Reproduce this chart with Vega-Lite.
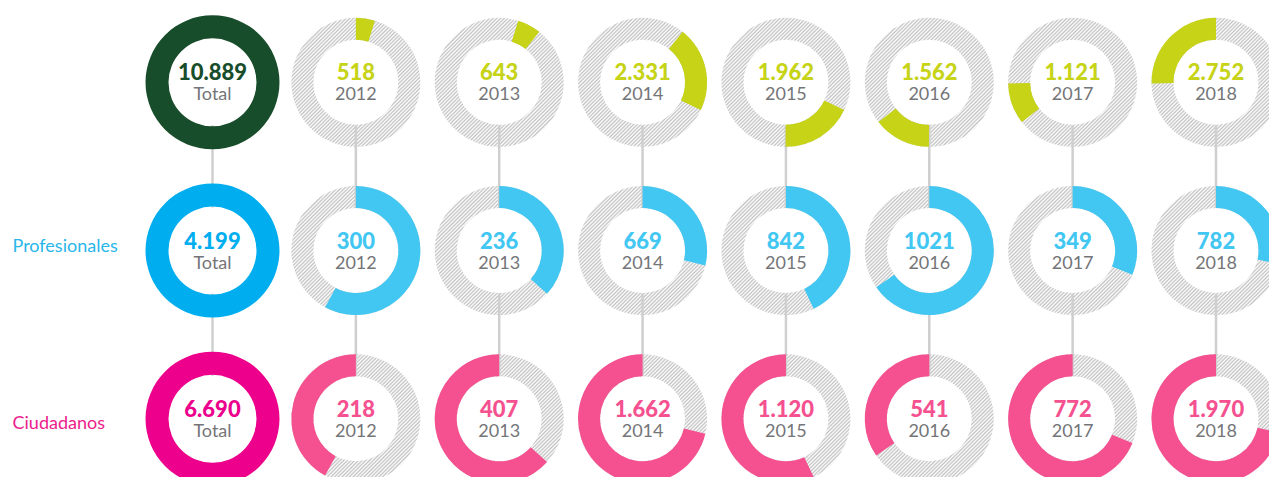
{
  "$schema": "https://vega.github.io/schema/vega-lite/v6.json",
  "width": 1269,
  "height": 477,
  "autosize": {"type": "none"},
  "padding": 0,
  "background": "#ffffff",
  "config": {"view": {"stroke": null}},
  "data": {
    "values": [
      {"grupo": "Total", "col": "Total", "valor": 10889, "etiqueta": "10.889"},
      {"grupo": "Total", "col": "2012", "valor": 518, "etiqueta": "518"},
      {"grupo": "Total", "col": "2013", "valor": 643, "etiqueta": "643"},
      {"grupo": "Total", "col": "2014", "valor": 2331, "etiqueta": "2.331"},
      {"grupo": "Total", "col": "2015", "valor": 1962, "etiqueta": "1.962"},
      {"grupo": "Total", "col": "2016", "valor": 1562, "etiqueta": "1.562"},
      {"grupo": "Total", "col": "2017", "valor": 1121, "etiqueta": "1.121"},
      {"grupo": "Total", "col": "2018", "valor": 2752, "etiqueta": "2.752"},
      {"grupo": "Profesionales", "col": "Total", "valor": 4199, "etiqueta": "4.199"},
      {"grupo": "Profesionales", "col": "2012", "valor": 300, "etiqueta": "300"},
      {"grupo": "Profesionales", "col": "2013", "valor": 236, "etiqueta": "236"},
      {"grupo": "Profesionales", "col": "2014", "valor": 669, "etiqueta": "669"},
      {"grupo": "Profesionales", "col": "2015", "valor": 842, "etiqueta": "842"},
      {"grupo": "Profesionales", "col": "2016", "valor": 1021, "etiqueta": "1021"},
      {"grupo": "Profesionales", "col": "2017", "valor": 349, "etiqueta": "349"},
      {"grupo": "Profesionales", "col": "2018", "valor": 782, "etiqueta": "782"},
      {"grupo": "Ciudadanos", "col": "Total", "valor": 6690, "etiqueta": "6.690"},
      {"grupo": "Ciudadanos", "col": "2012", "valor": 218, "etiqueta": "218"},
      {"grupo": "Ciudadanos", "col": "2013", "valor": 407, "etiqueta": "407"},
      {"grupo": "Ciudadanos", "col": "2014", "valor": 1662, "etiqueta": "1.662"},
      {"grupo": "Ciudadanos", "col": "2015", "valor": 1120, "etiqueta": "1.120"},
      {"grupo": "Ciudadanos", "col": "2016", "valor": 541, "etiqueta": "541"},
      {"grupo": "Ciudadanos", "col": "2017", "valor": 772, "etiqueta": "772"},
      {"grupo": "Ciudadanos", "col": "2018", "valor": 1970, "etiqueta": "1.970"}
    ]
  },
  "encoding": {
    "x": {
      "field": "col",
      "type": "nominal",
      "scale": {"type": "point", "domain": ["Total", "2012", "2013", "2014", "2015", "2016", "2017", "2018"], "range": [212.5, 1216], "padding": 0},
      "axis": null
    },
    "y": {
      "field": "grupo",
      "type": "nominal",
      "scale": {"type": "point", "domain": ["Total", "Profesionales", "Ciudadanos"], "range": [82.3, 418.8], "padding": 0},
      "axis": {
        "title": null,
        "domain": false,
        "ticks": false,
        "tickSize": 0,
        "grid": false,
        "labelAlign": "left",
        "labelBaseline": "alphabetic",
        "labelPadding": -12,
        "labelFont": "Lato",
        "labelFontSize": 18,
        "labelFontWeight": 400,
        "labelOffset": {"expr": "datum.value == 'Ciudadanos' ? 9.5 : 0.5"},
        "labelColor": {"expr": "datum.value == 'Profesionales' ? '#29b6ea' : '#ec1c8c'"},
        "labelExpr": "datum.value == 'Total' ? '' : datum.value"
      }
    }
  },
  "layer": [
    {
      "transform": [{"filter": "datum.col != 'Total'"}],
      "mark": {
        "type": "arc",
        "outerRadius": 64.5,
        "innerRadius": 42.5,
        "fill": {
          "gradient": "linear", "x1": 0, "y1": 0, "x2": 1, "y2": 1,
          "stops": [
            {"offset": 0, "color": "#c2c2c2"}, {"offset": 0.00714, "color": "#ffffff"}, {"offset": 0.01429, "color": "#c2c2c2"}, {"offset": 0.02143, "color": "#ffffff"}, {"offset": 0.02857, "color": "#c2c2c2"}, {"offset": 0.03571, "color": "#ffffff"}, {"offset": 0.04286, "color": "#c2c2c2"}, {"offset": 0.05, "color": "#ffffff"}, {"offset": 0.05714, "color": "#c2c2c2"}, {"offset": 0.06429, "color": "#ffffff"}, {"offset": 0.07143, "color": "#c2c2c2"}, {"offset": 0.07857, "color": "#ffffff"}, {"offset": 0.08571, "color": "#c2c2c2"}, {"offset": 0.09286, "color": "#ffffff"},
            {"offset": 0.1, "color": "#c2c2c2"}, {"offset": 0.10714, "color": "#ffffff"}, {"offset": 0.11429, "color": "#c2c2c2"}, {"offset": 0.12143, "color": "#ffffff"}, {"offset": 0.12857, "color": "#c2c2c2"}, {"offset": 0.13571, "color": "#ffffff"}, {"offset": 0.14286, "color": "#c2c2c2"}, {"offset": 0.15, "color": "#ffffff"}, {"offset": 0.15714, "color": "#c2c2c2"}, {"offset": 0.16429, "color": "#ffffff"}, {"offset": 0.17143, "color": "#c2c2c2"}, {"offset": 0.17857, "color": "#ffffff"}, {"offset": 0.18571, "color": "#c2c2c2"}, {"offset": 0.19286, "color": "#ffffff"},
            {"offset": 0.2, "color": "#c2c2c2"}, {"offset": 0.20714, "color": "#ffffff"}, {"offset": 0.21429, "color": "#c2c2c2"}, {"offset": 0.22143, "color": "#ffffff"}, {"offset": 0.22857, "color": "#c2c2c2"}, {"offset": 0.23571, "color": "#ffffff"}, {"offset": 0.24286, "color": "#c2c2c2"}, {"offset": 0.25, "color": "#ffffff"}, {"offset": 0.25714, "color": "#c2c2c2"}, {"offset": 0.26429, "color": "#ffffff"}, {"offset": 0.27143, "color": "#c2c2c2"}, {"offset": 0.27857, "color": "#ffffff"}, {"offset": 0.28571, "color": "#c2c2c2"}, {"offset": 0.29286, "color": "#ffffff"},
            {"offset": 0.3, "color": "#c2c2c2"}, {"offset": 0.30714, "color": "#ffffff"}, {"offset": 0.31429, "color": "#c2c2c2"}, {"offset": 0.32143, "color": "#ffffff"}, {"offset": 0.32857, "color": "#c2c2c2"}, {"offset": 0.33571, "color": "#ffffff"}, {"offset": 0.34286, "color": "#c2c2c2"}, {"offset": 0.35, "color": "#ffffff"}, {"offset": 0.35714, "color": "#c2c2c2"}, {"offset": 0.36429, "color": "#ffffff"}, {"offset": 0.37143, "color": "#c2c2c2"}, {"offset": 0.37857, "color": "#ffffff"}, {"offset": 0.38571, "color": "#c2c2c2"}, {"offset": 0.39286, "color": "#ffffff"},
            {"offset": 0.4, "color": "#c2c2c2"}, {"offset": 0.40714, "color": "#ffffff"}, {"offset": 0.41429, "color": "#c2c2c2"}, {"offset": 0.42143, "color": "#ffffff"}, {"offset": 0.42857, "color": "#c2c2c2"}, {"offset": 0.43571, "color": "#ffffff"}, {"offset": 0.44286, "color": "#c2c2c2"}, {"offset": 0.45, "color": "#ffffff"}, {"offset": 0.45714, "color": "#c2c2c2"}, {"offset": 0.46429, "color": "#ffffff"}, {"offset": 0.47143, "color": "#c2c2c2"}, {"offset": 0.47857, "color": "#ffffff"}, {"offset": 0.48571, "color": "#c2c2c2"}, {"offset": 0.49286, "color": "#ffffff"},
            {"offset": 0.5, "color": "#c2c2c2"}, {"offset": 0.50714, "color": "#ffffff"}, {"offset": 0.51429, "color": "#c2c2c2"}, {"offset": 0.52143, "color": "#ffffff"}, {"offset": 0.52857, "color": "#c2c2c2"}, {"offset": 0.53571, "color": "#ffffff"}, {"offset": 0.54286, "color": "#c2c2c2"}, {"offset": 0.55, "color": "#ffffff"}, {"offset": 0.55714, "color": "#c2c2c2"}, {"offset": 0.56429, "color": "#ffffff"}, {"offset": 0.57143, "color": "#c2c2c2"}, {"offset": 0.57857, "color": "#ffffff"}, {"offset": 0.58571, "color": "#c2c2c2"}, {"offset": 0.59286, "color": "#ffffff"},
            {"offset": 0.6, "color": "#c2c2c2"}, {"offset": 0.60714, "color": "#ffffff"}, {"offset": 0.61429, "color": "#c2c2c2"}, {"offset": 0.62143, "color": "#ffffff"}, {"offset": 0.62857, "color": "#c2c2c2"}, {"offset": 0.63571, "color": "#ffffff"}, {"offset": 0.64286, "color": "#c2c2c2"}, {"offset": 0.65, "color": "#ffffff"}, {"offset": 0.65714, "color": "#c2c2c2"}, {"offset": 0.66429, "color": "#ffffff"}, {"offset": 0.67143, "color": "#c2c2c2"}, {"offset": 0.67857, "color": "#ffffff"}, {"offset": 0.68571, "color": "#c2c2c2"}, {"offset": 0.69286, "color": "#ffffff"},
            {"offset": 0.7, "color": "#c2c2c2"}, {"offset": 0.70714, "color": "#ffffff"}, {"offset": 0.71429, "color": "#c2c2c2"}, {"offset": 0.72143, "color": "#ffffff"}, {"offset": 0.72857, "color": "#c2c2c2"}, {"offset": 0.73571, "color": "#ffffff"}, {"offset": 0.74286, "color": "#c2c2c2"}, {"offset": 0.75, "color": "#ffffff"}, {"offset": 0.75714, "color": "#c2c2c2"}, {"offset": 0.76429, "color": "#ffffff"}, {"offset": 0.77143, "color": "#c2c2c2"}, {"offset": 0.77857, "color": "#ffffff"}, {"offset": 0.78571, "color": "#c2c2c2"}, {"offset": 0.79286, "color": "#ffffff"},
            {"offset": 0.8, "color": "#c2c2c2"}, {"offset": 0.80714, "color": "#ffffff"}, {"offset": 0.81429, "color": "#c2c2c2"}, {"offset": 0.82143, "color": "#ffffff"}, {"offset": 0.82857, "color": "#c2c2c2"}, {"offset": 0.83571, "color": "#ffffff"}, {"offset": 0.84286, "color": "#c2c2c2"}, {"offset": 0.85, "color": "#ffffff"}, {"offset": 0.85714, "color": "#c2c2c2"}, {"offset": 0.86429, "color": "#ffffff"}, {"offset": 0.87143, "color": "#c2c2c2"}, {"offset": 0.87857, "color": "#ffffff"}, {"offset": 0.88571, "color": "#c2c2c2"}, {"offset": 0.89286, "color": "#ffffff"},
            {"offset": 0.9, "color": "#c2c2c2"}, {"offset": 0.90714, "color": "#ffffff"}, {"offset": 0.91429, "color": "#c2c2c2"}, {"offset": 0.92143, "color": "#ffffff"}, {"offset": 0.92857, "color": "#c2c2c2"}, {"offset": 0.93571, "color": "#ffffff"}, {"offset": 0.94286, "color": "#c2c2c2"}, {"offset": 0.95, "color": "#ffffff"}, {"offset": 0.95714, "color": "#c2c2c2"}, {"offset": 0.96429, "color": "#ffffff"}, {"offset": 0.97143, "color": "#c2c2c2"}, {"offset": 0.97857, "color": "#ffffff"}, {"offset": 0.98571, "color": "#c2c2c2"}, {"offset": 0.99286, "color": "#ffffff"},
            {"offset": 1, "color": "#c2c2c2"}
          ]
        }
      },
      "encoding": {
        "theta": {"datum": 0, "type": "quantitative", "scale": {"domain": [0, 1], "range": [0, 6.283185]}},
        "theta2": {"datum": 1}
      }
    },
    {
      "transform": [{"filter": "datum.grupo == 'Total'"}],
      "mark": {"type": "rule", "color": "#cfcfcf", "strokeWidth": 2.5, "yOffset": 43, "y2Offset": -43},
      "encoding": {
        "y2": {"datum": "Profesionales"}
      }
    },
    {
      "transform": [{"filter": "datum.grupo == 'Profesionales'"}],
      "mark": {"type": "rule", "color": "#cfcfcf", "strokeWidth": 2.5, "yOffset": 43, "y2Offset": -43},
      "encoding": {
        "y2": {"datum": "Ciudadanos"}
      }
    },
    {
      "transform": [
        {"filter": "datum.grupo == 'Total' && datum.col != 'Total'"},
        {"stack": "valor", "groupby": [], "sort": [{"field": "col", "order": "ascending"}], "offset": "normalize", "as": ["t0", "t1"]}
      ],
      "mark": {"type": "arc", "outerRadius": 64.5, "innerRadius": 42.5},
      "encoding": {
        "theta": {"field": "t0", "type": "quantitative", "stack": null, "scale": {"domain": [0, 1], "range": [0, 6.283185]}},
        "theta2": {"field": "t1"},
        "color": {"field": "grupo", "type": "nominal", "scale": {"domain": ["Total", "Profesionales", "Ciudadanos"], "range": ["#c6d316", "#41c7f2", "#f5508f"]}, "legend": null}
      }
    },
    {
      "transform": [
        {"filter": "datum.grupo != 'Total' && datum.col != 'Total'"},
        {"stack": "valor", "groupby": ["col"], "sort": [{"field": "grupo", "order": "descending"}], "offset": "normalize", "as": ["t0", "t1"]}
      ],
      "mark": {"type": "arc", "outerRadius": 64.5, "innerRadius": 42.5},
      "encoding": {
        "theta": {"field": "t0", "type": "quantitative", "stack": null, "scale": {"domain": [0, 1], "range": [0, 6.283185]}},
        "theta2": {"field": "t1"},
        "color": {"field": "grupo", "type": "nominal", "scale": {"domain": ["Total", "Profesionales", "Ciudadanos"], "range": ["#c6d316", "#41c7f2", "#f5508f"]}, "legend": null}
      }
    },
    {
      "transform": [{"filter": "datum.col == 'Total'"}],
      "mark": {"type": "arc", "outerRadius": 67, "innerRadius": 44},
      "encoding": {
        "theta": {"datum": 0, "type": "quantitative", "scale": {"domain": [0, 1], "range": [0, 6.283185]}},
        "theta2": {"datum": 1},
        "fill": {"field": "grupo", "type": "nominal", "scale": {"domain": ["Total", "Profesionales", "Ciudadanos"], "range": ["#184d2b", "#00aeef", "#ec008c"]}, "legend": null}
      }
    },
    {
      "transform": [{"filter": "datum.col != 'Total'"}],
      "mark": {"type": "text", "font": "Lato", "fontSize": 22, "fontWeight": 900, "baseline": "alphabetic", "align": "center", "dy": -2},
      "encoding": {
        "text": {"field": "etiqueta"},
        "color": {"field": "grupo", "type": "nominal", "scale": {"domain": ["Total", "Profesionales", "Ciudadanos"], "range": ["#c6d316", "#41c7f2", "#f5508f"]}, "legend": null}
      }
    },
    {
      "transform": [{"filter": "datum.col == 'Total'"}],
      "mark": {"type": "text", "font": "Lato", "fontSize": 22, "fontWeight": 900, "baseline": "alphabetic", "align": "center", "dy": -2},
      "encoding": {
        "text": {"field": "etiqueta"},
        "fill": {"field": "grupo", "type": "nominal", "scale": {"domain": ["Total", "Profesionales", "Ciudadanos"], "range": ["#184d2b", "#00aeef", "#ec008c"]}, "legend": null}
      }
    },
    {
      "mark": {"type": "text", "font": "Lato", "fontSize": 18, "fontWeight": 400, "baseline": "alphabetic", "align": "center", "dy": 18, "color": "#747578"},
      "encoding": {
        "text": {"field": "col"}
      }
    }
  ]
}
